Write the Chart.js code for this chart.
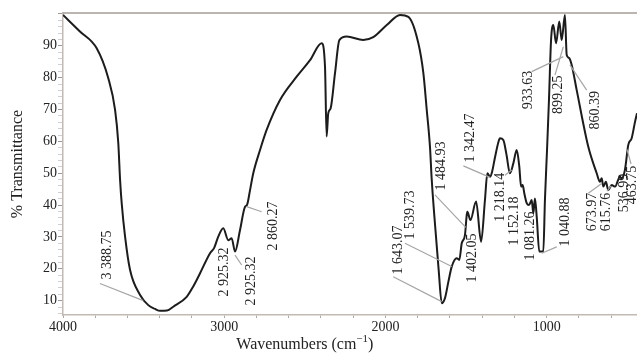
<!DOCTYPE html>
<html lang="en">
<head>
    <meta charset="UTF-8">
    <title>IR Spectrum</title>
    <script src="https://cdn.jsdelivr.net/npm/chart.js"></script>
    <style>
        body {
            margin: 0;
            background: #fff;
        }
        canvas {
            display: block;
        }
    </style>
</head>
<body>
    <canvas id="irChart" width="637" height="355"></canvas>

    <script>
        // Spectrum (wavenumber, % transmittance)
        const wavenumbers = [4000, 3895, 3791, 3719, 3677, 3657, 3646, 3636, 3615, 3584, 3522, 3471, 3429, 3398, 3355, 3316, 3233, 3194, 3150, 3088, 3063, 3037, 3006, 2975, 2954, 2933, 2902, 2871, 2859, 2840, 2820, 2778, 2737, 2654, 2551, 2468, 2396, 2375, 2365, 2355, 2340, 2313, 2286, 2240, 2138, 2076, 1992, 1910, 1858, 1796, 1765, 1744, 1724, 1713, 1690, 1670, 1651, 1631, 1610, 1589, 1558, 1542, 1527, 1507, 1496, 1492, 1473, 1438, 1407, 1383, 1368, 1352, 1339, 1320, 1299, 1290, 1269, 1250, 1228, 1207, 1186, 1170, 1159, 1149, 1139, 1124, 1110, 1093, 1083, 1073, 1062, 1046, 1021, 1011, 998, 986, 973, 959, 942, 922, 907, 887, 876, 862, 845, 814, 742, 690, 670, 659, 649, 633, 618, 597, 576, 546, 535, 515, 494, 473, 452, 440];
        const transmittance = [99.7, 94.5, 89.2, 79.8, 69.9, 59.4, 47.9, 40.6, 30.1, 19.6, 11.8, 8.6, 7.4, 6.8, 6.9, 8.1, 11.2, 14.3, 18.6, 24.9, 26.5, 30.1, 32.7, 29.0, 29.6, 25.4, 32.2, 39.5, 40.0, 44.7, 50.0, 57.3, 63.6, 73.0, 80.3, 85.5, 90.8, 83.4, 61.5, 68.8, 70.4, 81.4, 91.8, 92.9, 91.8, 92.7, 96.5, 99.7, 99.1, 90.8, 81.4, 69.9, 58.3, 47.9, 32.2, 19.6, 9.2, 10.8, 15.9, 20.7, 23.3, 22.8, 28.0, 30.6, 36.9, 37.9, 35.3, 41.1, 28.5, 41.6, 50.0, 48.9, 50.4, 55.2, 59.9, 61.0, 60.4, 56.0, 50.0, 53.1, 57.3, 52.1, 45.8, 46.3, 43.7, 40.6, 40.0, 41.6, 37.4, 42.1, 36.4, 25.4, 25.4, 41.6, 57.3, 73.0, 91.8, 96.5, 90.8, 97.6, 91.8, 99.7, 87.1, 86.2, 84.0, 76.1, 58.3, 50.0, 47.3, 48.4, 45.8, 47.3, 44.7, 46.3, 45.8, 48.9, 48.4, 51.0, 58.9, 61.0, 66.2, 68.8];

        // Axis ticks
        const xTickValues = [4000, 3800, 3600, 3400, 3200, 3000, 2800, 2600, 2400, 2200, 2000, 1800, 1600, 1400, 1200, 1000, 800, 600];
        const xTickLabels = [4000, 3000, 2000, 1000];
        const yTickValues = [6, 8, 10, 12, 14, 16, 18, 20, 22, 24, 26, 28, 30, 32, 34, 36, 38, 40, 42, 44, 46, 48, 50, 52, 54, 56, 58, 60, 62, 64, 66, 68, 70, 72, 74, 76, 78, 80, 82, 84, 86, 88, 90, 92, 94, 96, 98, 100];
        const yTickLabels = [10, 20, 30, 40, 50, 60, 70, 80, 90];

        // Peak annotations
        const peakLabels = ['3 388.75', '2 925.32', '2 925.32', '2 860.27', '1 643.07', '1 539.73', '1 484.93', '1 402.05', '1 342.47', '1 218.14', '1 152.18', '1 081.26', '1 040.88', '933.63', '899.25', '860.39', '673.97', '615.76', '536.99', '463.75'];

        // where each label sits and its leader line (data units: x, y, then x1, y1, x2, y2)
        const peakLayout = [
            { at: [3727, 24.3], line: [3771, 15.4, 3502, 10.0] },
            { at: [3001, 19.0] },
            { at: [2830, 16.2], line: [2933, 24.3, 2892, 21.2] },
            { at: [2696, 33.4], line: [2861, 39.5, 2768, 37.9] },
            { at: [1920, 25.9], line: [1952, 17.5, 1651, 9.7] },
            { at: [1848, 36.9], line: [1879, 28.0, 1589, 20.7] },
            { at: [1651, 52.3], line: [1693, 43.2, 1502, 33.0] },
            { at: [1459, 23.4] },
            { at: [1476, 61.1], line: [1517, 52.3, 1352, 48.7] },
            { at: [1290, 42.5], line: [1259, 49.4, 1217, 51.0] },
            { at: [1201, 35.0] },
            { at: [1099, 30.3] },
            { at: [887, 34.7], line: [1031, 24.9, 938, 26.9] },
            { at: [1114, 76.1], line: [1093, 81.9, 897, 86.6] },
            { at: [928, 74.6], line: [949, 80.8, 897, 89.7] },
            { at: [700, 69.8], line: [856, 84.0, 752, 76.1] },
            { at: [715, 37.8], line: [742, 43.7, 659, 46.8] },
            { at: [632, 37.8], line: [626, 44.4, 601, 46.0] },
            { at: [521, 43.8] },
            { at: [471, 46.3], line: [477, 52.9, 502, 57.5] }
        ];

        const serif = 'Liberation Serif';

        const peakPlugin = {
            id: 'peaks',
            afterDatasetsDraw(chart) {
                const { ctx, chartArea } = chart;
                const x = chart.scales.x;
                const y = chart.scales.y;
                ctx.save();

                // frame line along the top
                ctx.strokeStyle = '#a59d95';
                ctx.lineWidth = 1.5;
                ctx.beginPath();
                ctx.moveTo(chartArea.left, chartArea.top);
                ctx.lineTo(chartArea.right, chartArea.top);
                ctx.stroke();

                // leader lines + rotated labels
                ctx.strokeStyle = '#a6a6a6';
                ctx.lineWidth = 1.2;
                ctx.fillStyle = '#222';
                ctx.font = '14px "' + serif + '"';
                ctx.textAlign = 'center';
                ctx.textBaseline = 'middle';
                peakLayout.forEach((p, i) => {
                    if (p.line) {
                        ctx.beginPath();
                        ctx.moveTo(x.getPixelForValue(p.line[0]), y.getPixelForValue(p.line[1]));
                        ctx.lineTo(x.getPixelForValue(p.line[2]), y.getPixelForValue(p.line[3]));
                        ctx.stroke();
                    }
                    ctx.save();
                    ctx.translate(x.getPixelForValue(p.at[0]), y.getPixelForValue(p.at[1]));
                    ctx.rotate(-Math.PI / 2);
                    ctx.fillText(peakLabels[i], 0, 0);
                    ctx.restore();
                });

                // axis titles
                ctx.font = '16px "' + serif + '"';
                ctx.textAlign = 'left';
                ctx.textBaseline = 'alphabetic';
                const main = 'Wavenumbers (cm';
                const sup = '\u22121';
                const wMain = ctx.measureText(main).width;
                ctx.font = '11px "' + serif + '"';
                const wSup = ctx.measureText(sup).width;
                ctx.font = '16px "' + serif + '"';
                const wEnd = ctx.measureText(')').width;
                let tx = x.getPixelForValue(2500) - (wMain + wSup + wEnd) / 2;
                const ty = 349;
                ctx.fillText(main, tx, ty);
                ctx.font = '11px "' + serif + '"';
                ctx.fillText(sup, tx + wMain, ty - 7);
                ctx.font = '16px "' + serif + '"';
                ctx.fillText(')', tx + wMain + wSup, ty);

                ctx.save();
                ctx.translate(18, 164);
                ctx.rotate(-Math.PI / 2);
                ctx.textAlign = 'center';
                ctx.textBaseline = 'middle';
                ctx.fillText('% Transmittance', 0, 0);
                ctx.restore();

                ctx.restore();
            }
        };

        const chart = new Chart(document.getElementById('irChart').getContext('2d'), {
            type: 'line',
            data: {
                datasets: [{
                    data: wavenumbers.map((w, i) => ({ x: w, y: transmittance[i] })),
                    borderColor: '#1c1c1c',
                    borderWidth: 2,
                    pointRadius: 0,
                    cubicInterpolationMode: 'monotone',
                    fill: false
                }]
            },
            options: {
                responsive: false,
                animation: false,
                devicePixelRatio: 1,
                layout: { padding: { top: 13, right: 0, left: 0, bottom: 0 } },
                plugins: {
                    legend: { display: false },
                    tooltip: { enabled: false }
                },
                scales: {
                    x: {
                        type: 'linear',
                        reverse: true,
                        min: 440,
                        max: 4000,
                        afterBuildTicks: s => { s.ticks = xTickValues.map(v => ({ value: v })); },
                        afterFit: s => { s.height = 40; },
                        ticks: {
                            callback: v => xTickLabels.includes(v) ? String(v) : '',
                            maxRotation: 0,
                            autoSkip: false,
                            padding: 1,
                            color: '#222',
                            font: { family: serif, size: 14 }
                        },
                        grid: { drawOnChartArea: false, tickLength: 3, tickColor: '#b0a89f' },
                        border: { color: '#c2bab2', width: 1.5 }
                    },
                    y: {
                        min: 5.5,
                        max: 100.3,
                        afterBuildTicks: s => { s.ticks = yTickValues.map(v => ({ value: v })); },
                        afterFit: s => { s.width = 63; },
                        ticks: {
                            callback: v => yTickLabels.includes(v) ? String(v) : '',
                            autoSkip: false,
                            padding: 1,
                            color: '#222',
                            font: { family: serif, size: 14 }
                        },
                        grid: {
                            drawOnChartArea: false,
                            tickLength: 5,
                            tickColor: c => (c.tick && c.tick.value % 10 === 0) ? '#9a9a9a' : '#cfcfcf'
                        },
                        border: { color: '#c2bab2', width: 1.5 }
                    }
                }
            },
            plugins: [peakPlugin]
        });
    </script>
</body>
</html>
